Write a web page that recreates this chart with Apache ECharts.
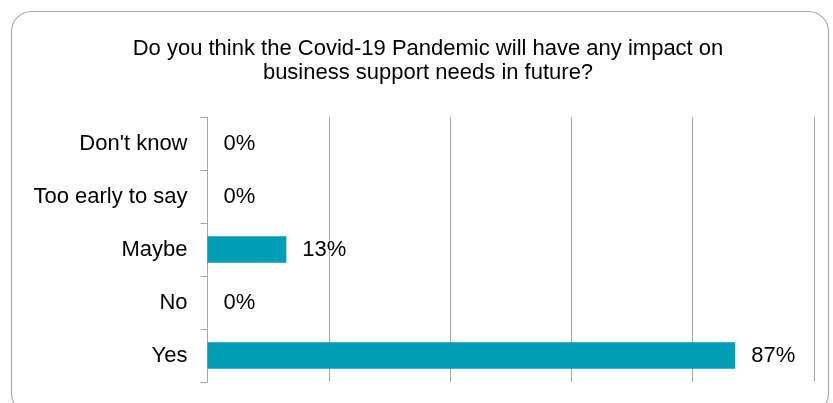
<!DOCTYPE html>
<html>
<head>
<meta charset="utf-8">
<script src="https://cdn.jsdelivr.net/npm/echarts@6/dist/echarts.min.js"></script>
<style>
  html, body { margin: 0; padding: 0; background: #fff; }
  #chart { width: 833px; height: 403px; }
</style>
</head>
<body>
<div id="chart"></div>
<script>
// Survey answers, top to bottom
const categories = ["Don't know", "Too early to say", "Maybe", "No", "Yes"];
const shares = [0, 0, 13, 0, 87];
const titleText = 'Do you think the Covid-19 Pandemic will have any impact on\nbusiness support needs in future?';

const font = '"Liberation Sans", Arial, sans-serif';
const chart = echarts.init(document.getElementById('chart'));

chart.setOption({
  animation: false,
  backgroundColor: '#ffffff',
  graphic: [{
    type: 'rect',
    shape: { x: 11.5, y: 11.5, width: 817, height: 402, r: 20 },
    style: { fill: 'none', stroke: '#a9a9a9', lineWidth: 1.2 },
    silent: true
  }],
  title: {
    text: titleText,
    left: 423,
    textAlign: 'center',
    top: 32,
    textStyle: {
      fontFamily: font,
      fontSize: 22,
      fontWeight: 'normal',
      color: '#000',
      lineHeight: 24
    }
  },
  grid: { left: 207.5, right: 19, top: 117, bottom: 21, containLabel: false },
  xAxis: {
    type: 'value',
    min: 0,
    max: 100,
    interval: 20,
    axisLabel: { show: false },
    axisLine: { show: false },
    axisTick: { show: false },
    splitLine: { show: true, lineStyle: { color: '#a6a6a6', width: 1 } }
  },
  yAxis: {
    type: 'category',
    data: categories,
    inverse: true,
    axisLine: { show: true, lineStyle: { color: '#a6a6a6', width: 1 } },
    axisTick: { show: true, length: 7, lineStyle: { color: '#a6a6a6' } },
    axisLabel: {
      fontFamily: font,
      fontSize: 22,
      color: '#000',
      margin: 20
    }
  },
  series: [{
    type: 'bar',
    data: shares,
    barWidth: '50%',
    itemStyle: { color: '#009db6' },
    label: {
      show: true,
      position: 'right',
      distance: 16,
      formatter: '{c}%',
      fontFamily: font,
      fontSize: 22,
      color: '#000'
    }
  }]
});
</script>
</body>
</html>
